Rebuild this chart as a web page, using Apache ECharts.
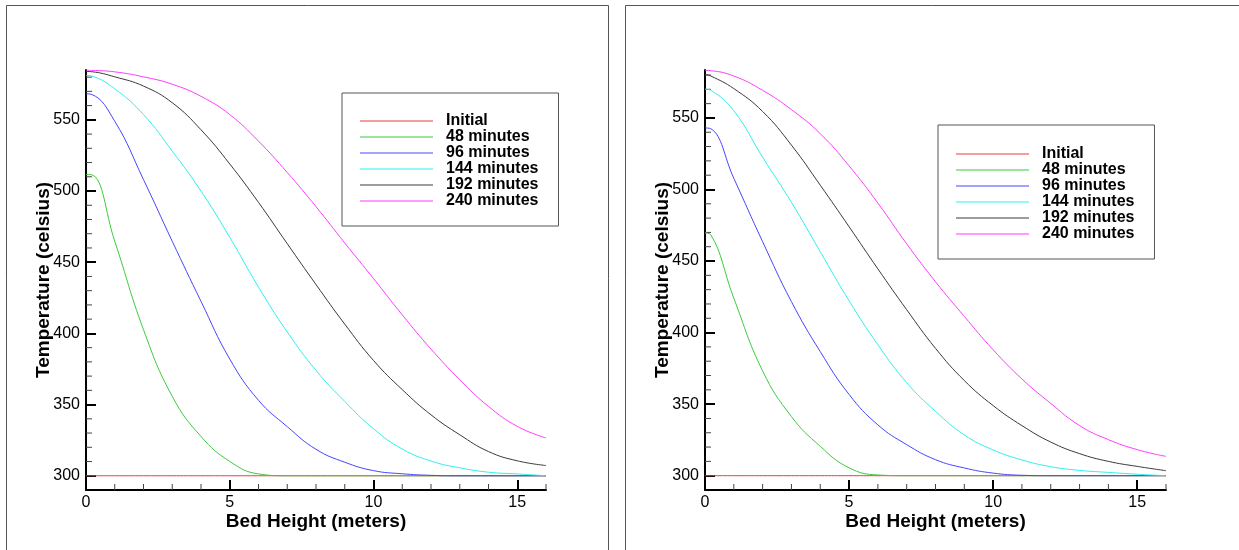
<!DOCTYPE html>
<html>
<head>
<meta charset="utf-8">
<title>Bed temperature profiles</title>
<script src="https://cdn.jsdelivr.net/npm/echarts@6/dist/echarts.min.js"></script>
<style>
  html, body { margin: 0; padding: 0; background: #fff; }
  #chart { width: 1239px; height: 550px; }
</style>
</head>
<body>
<div id="chart"></div>
<script>
var bedHeight = [0, 0.2, 1, 2, 3, 4, 5, 6, 7, 8, 9, 10, 11, 12, 13, 14, 15, 16]
var seriesNames = ['Initial', '48 minutes', '96 minutes', '144 minutes', '192 minutes', '240 minutes']

// left panel, temperature (celsius)
var leftInitial = [300, 300, 300, 300, 300, 300, 300, 300, 300, 300, 300, 300, 300, 300, 300, 300, 300, 300]
var leftMin48 = [511.6, 511.4, 464.7, 402.6, 355.8, 327.6, 310.1, 301.3, 300, 300, 300, 300, 300, 300, 300, 300, 300, 300]
var leftMin96 = [568.3, 567.8, 549.0, 508.0, 464.7, 422.5, 382.0, 353.0, 334.5, 318.6, 309.5, 303.6, 301.4, 300.3, 300, 300, 300, 300]
var leftMin144 = [581.2, 580.7, 571.8, 553.7, 528.0, 499.9, 467.5, 432.5, 401.0, 374.0, 352.2, 333.0, 318.8, 310.3, 305.6, 302.5, 301.3, 300]
var leftMin192 = [584.0, 583.8, 580.2, 573.7, 562.0, 543.0, 519.0, 492.0, 463.0, 434.3, 406.5, 381.0, 360.5, 342.8, 328.8, 317.0, 310.5, 307.2]
var leftMin240 = [584.9, 584.8, 583.7, 580.2, 575.0, 566.5, 553.7, 535.0, 513.0, 489.0, 463.5, 438.5, 413.0, 389.0, 367.5, 348.7, 334.7, 326.5]

// right panel, temperature (celsius)
var rightInitial = [300, 300, 300, 300, 300, 300, 300, 300, 300, 300, 300, 300, 300, 300, 300, 300, 300, 300]
var rightMin48 = [469.6, 468.4, 424.0, 373.2, 341.3, 320.5, 305.5, 300.5, 300, 300, 300, 300, 300, 300, 300, 300, 300, 300]
var rightMin96 = [543.0, 542.5, 507.8, 463.5, 421.6, 386.7, 356.8, 335.5, 321.7, 311.2, 305.4, 301.8, 300.3, 300, 300, 300, 300, 300]
var rightMin144 = [570.2, 569.3, 555.0, 522.5, 491.0, 456.5, 422.3, 391.5, 365.0, 345.0, 328.5, 318.0, 311.0, 306.3, 303.7, 302.3, 301.0, 300]
var rightMin192 = [580.2, 579.3, 570.5, 554.5, 531.0, 503.0, 474.0, 444.5, 416.0, 389.0, 366.5, 349.0, 335.0, 323.5, 315.4, 310.0, 306.5, 303.5]
var rightMin240 = [583.2, 583.0, 579.3, 569.3, 555.8, 539.0, 516.5, 490.5, 462.0, 435.5, 411.3, 388.0, 367.6, 350.5, 335.0, 325.2, 318.2, 313.5]

// axis ticks
var xTicks = [0, 5, 10, 15]
var xMinorTicks = [1, 2, 3, 4, 6, 7, 8, 9, 11, 12, 13, 14, 16]
var yTicks = [300, 350, 400, 450, 500, 550]
var yMinorTicks = [310, 320, 330, 340, 360, 370, 380, 390, 410, 420, 430, 440, 460, 470, 480, 490, 510, 520, 530, 540, 560, 570, 580]

var xMin = 0
var yMin = 290
var lineColors = ['#e83c3c', '#3ccc3c', '#4646ff', '#2ef0f0', '#3a3a3a', '#ff3cff']
var font = '"Liberation Sans", Arial, sans-serif'

var chart = echarts.init(document.getElementById('chart'), null, { renderer: 'canvas' })

function xAxisFor (gridIndex) {
  return {
    type: 'value',
    gridIndex: gridIndex,
    position: 'bottom',
    min: xMin,
    max: 16,
    name: 'Bed Height (meters)',
    nameLocation: 'middle',
    nameGap: 22,
    nameMoveOverlap: false,
    nameTextStyle: { fontFamily: font, fontSize: 19, fontWeight: 'bold', color: '#000' },
    axisLine: { show: true, onZero: false, lineStyle: { color: '#000', width: 2 } },
    axisTick: { show: true, inside: true, length: 10, customValues: xTicks, lineStyle: { color: '#000', width: 2 } },
    axisLabel: { show: true, margin: 5, customValues: xTicks, fontFamily: font, fontSize: 16, color: '#000' },
    splitLine: { show: false }
  }
}

function yAxisFor (gridIndex, max) {
  return {
    type: 'value',
    gridIndex: gridIndex,
    position: 'left',
    min: yMin,
    max: max,
    name: 'Temperature (celsius)',
    nameLocation: 'middle',
    nameRotate: 90,
    nameGap: 33,
    nameMoveOverlap: false,
    nameTextStyle: { fontFamily: font, fontSize: 19, fontWeight: 'bold', color: '#000' },
    axisLine: { show: true, onZero: false, lineStyle: { color: '#000', width: 2 } },
    axisTick: { show: true, inside: true, length: 10, customValues: yTicks, lineStyle: { color: '#000', width: 2 } },
    axisLabel: { show: true, margin: 6, customValues: yTicks, fontFamily: font, fontSize: 16, color: '#000' },
    splitLine: { show: false }
  }
}

function buildSeries (panel, axisIndex) {
  return panel.map(function (vals, i) {
    return {
      name: seriesNames[i],
      type: 'line',
      xAxisIndex: axisIndex,
      yAxisIndex: axisIndex,
      symbol: 'none',
      smooth: 0.45,
      lineStyle: { width: 1, color: lineColors[i] },
      itemStyle: { color: lineColors[i] },
      data: bedHeight.map(function (h, j) { return [h, vals[j]] })
    }
  })
}

// small ticks, placed with the axis scale (api.coord), 6px long, pointing inward
function minorTicks (axisIndex) {
  var xs = {
    type: 'custom',
    name: 'x minor ticks',
    xAxisIndex: axisIndex,
    yAxisIndex: axisIndex,
    silent: true,
    clip: false,
    z: 3,
    data: xMinorTicks.map(function (v) { return [v, yMin] }),
    renderItem: function (params, api) {
      var p = api.coord([api.value(0), api.value(1)])
      return { type: 'line', shape: { x1: p[0], y1: p[1], x2: p[0], y2: p[1] - 6 }, style: { stroke: '#444', lineWidth: 1 } }
    }
  }
  var ys = {
    type: 'custom',
    name: 'y minor ticks',
    xAxisIndex: axisIndex,
    yAxisIndex: axisIndex,
    silent: true,
    clip: false,
    z: 3,
    data: yMinorTicks.map(function (v) { return [xMin, v] }),
    renderItem: function (params, api) {
      var p = api.coord([api.value(0), api.value(1)])
      return { type: 'line', shape: { x1: p[0], y1: p[1], x2: p[0] + 6, y2: p[1] }, style: { stroke: '#444', lineWidth: 1 } }
    }
  }
  return [xs, ys]
}

function legendBox (left, top, padTop) {
  return {
    data: seriesNames,
    orient: 'vertical',
    left: left,
    top: top,
    padding: [padTop, 20, 17, 18],
    icon: 'path://M0,0 L73,0 L73,1 L0,1 Z',
    itemWidth: 73,
    itemHeight: 15,
    itemGap: 0,
    borderColor: '#555',
    borderWidth: 1,
    backgroundColor: '#fff',
    selectedMode: false,
    textStyle: { fontFamily: font, fontSize: 16, fontWeight: 'bold', color: '#000', lineHeight: 16, padding: [0, 0, 0, 8] }
  }
}

var leftPanel = [leftInitial, leftMin48, leftMin96, leftMin144, leftMin192, leftMin240]
var rightPanel = [rightInitial, rightMin48, rightMin96, rightMin144, rightMin192, rightMin240]

var option = {
  animation: false,
  backgroundColor: '#fff',
  graphic: [
    { type: 'rect', shape: { x: 6.5, y: 5.5, width: 602, height: 600 }, style: { fill: 'none', stroke: '#555', lineWidth: 1 }, silent: true },
    { type: 'rect', shape: { x: 625.5, y: 5.5, width: 700, height: 600 }, style: { fill: 'none', stroke: '#555', lineWidth: 1 }, silent: true }
  ],
  grid: [
    { left: 86, top: 70, width: 460, height: 420, containLabel: false, outerBoundsMode: 'none' },
    { left: 705, top: 70, width: 461, height: 420, containLabel: false, outerBoundsMode: 'none' }
  ],
  legend: [legendBox(342, 93, 20), legendBox(938, 125, 21)],
  xAxis: [xAxisFor(0), xAxisFor(1)],
  yAxis: [yAxisFor(0, 585), yAxisFor(1, 583.5)],
  series: buildSeries(leftPanel, 0).concat(buildSeries(rightPanel, 1), minorTicks(0), minorTicks(1))
}

chart.setOption(option)
</script>
</body>
</html>
